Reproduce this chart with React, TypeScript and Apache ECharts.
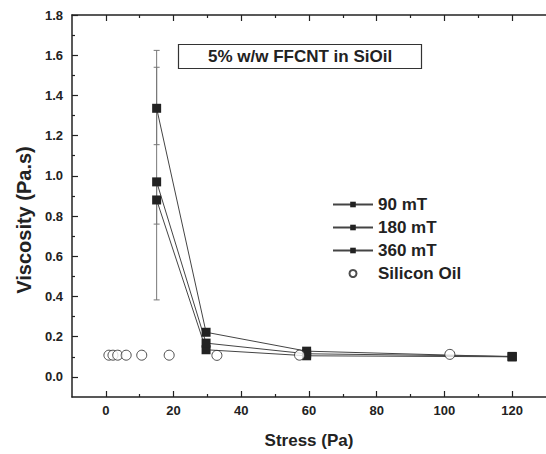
import React, { useEffect, useRef } from "react";
import * as echarts from "echarts";

const stressSq = [15, 29.6, 59.3, 120];
const visc90 = [0.88, 0.135, 0.105, 0.1];
const visc180 = [0.97, 0.168, 0.115, 0.102];
const visc360 = [1.336, 0.222, 0.128, 0.1];
const err90 = [0.76, 0.98];
const err180 = [0.383, 1.624];
const err360 = [1.155, 1.54];
const oilStress = [0.9, 2.1, 3.5, 6, 10.6, 18.7, 32.8, 57.2, 101.6];
const oilVisc = [0.108, 0.108, 0.108, 0.108, 0.108, 0.108, 0.107, 0.108, 0.112];
const xMajor = [0, 20, 40, 60, 80, 100, 120];
const xMinor = [10, 30, 50, 70, 90, 110];
const yMajor = [0, 0.2, 0.4, 0.6, 0.8, 1.0, 1.2, 1.4, 1.6, 1.8];
const yMinor = [0.1, 0.3, 0.5, 0.7, 0.9, 1.1, 1.3, 1.5, 1.7];
const seriesNames = ["90 mT", "180 mT", "360 mT", "Silicon Oil"];
const titleText = "5% w/w FFCNT in SiOil";

const FONT = "'Liberation Sans', Arial, sans-serif";
const INK = "#222";

export default function App() {
  const ref = useRef<HTMLDivElement>(null);
  useEffect(() => {
    if (!ref.current) return;
    const chart = echarts.init(ref.current, null, { renderer: "svg" });
    const pairs = (xs: number[], ys: number[]) => xs.map((x, i) => [x, ys[i]]);
    const errData = [
      [stressSq[0], err90[0], err90[1]],
      [stressSq[0], err180[0], err180[1]],
      [stressSq[0], err360[0], err360[1]],
    ];
    const xBase = { type: "value", min: -10, max: 130, splitLine: { show: false }, gridIndex: 0 };
    const yBase = { type: "value", min: -0.1, max: 1.8, splitLine: { show: false }, gridIndex: 0 };
    const tickStyle = { color: INK, width: 1.2 };
    const lineSeries = (name: string, ys: number[]) => ({
      name,
      type: "line",
      data: pairs(stressSq, ys),
      symbol: "rect",
      symbolSize: 9,
      itemStyle: { color: INK },
      lineStyle: { color: "#444", width: 1 },
      z: 3,
    });
    chart.setOption({
      animation: false,
      backgroundColor: "#fff",
      textStyle: { fontFamily: FONT },
      title: {
        text: titleText,
        left: 178,
        top: 44,
        padding: [4, 30, 4, 30],
        borderColor: "#333",
        borderWidth: 1.2,
        textStyle: { fontFamily: FONT, fontWeight: "bold", fontSize: 17, color: INK },
      },
      legend: {
        orient: "vertical",
        left: 327,
        top: 191,
        itemWidth: 40,
        itemHeight: 7,
        itemGap: 6,
        data: seriesNames,
        textStyle: { fontFamily: FONT, fontWeight: "bold", fontSize: 17, color: INK },
      },
      grid: { left: 72, top: 15, right: -6, bottom: 53 },
      xAxis: [
        {
          ...xBase,
          position: "bottom",
          axisLine: { show: true, onZero: false, lineStyle: { color: INK, width: 1.5 } },
          axisTick: { show: true, inside: true, length: 6, customValues: xMajor, lineStyle: tickStyle },
          axisLabel: {
            show: true,
            customValues: xMajor,
            margin: 7,
            fontFamily: FONT,
            fontWeight: "bold",
            fontSize: 13,
            color: INK,
          },
          name: "Stress (Pa)",
          nameLocation: "middle",
          nameGap: 35,
          nameTextStyle: { fontFamily: FONT, fontWeight: "bold", fontSize: 17, color: INK },
        },
        {
          ...xBase,
          position: "bottom",
          axisLine: { show: false, onZero: false },
          axisTick: { show: true, inside: true, length: 3, customValues: xMinor, lineStyle: tickStyle },
          axisLabel: { show: false },
        },
        {
          ...xBase,
          position: "top",
          axisLine: { show: true, onZero: false, lineStyle: { color: INK, width: 1.5 } },
          axisTick: { show: true, inside: true, length: 6, customValues: xMajor, lineStyle: tickStyle },
          axisLabel: { show: false },
        },
        {
          ...xBase,
          position: "top",
          axisLine: { show: false, onZero: false },
          axisTick: { show: true, inside: true, length: 3, customValues: xMinor, lineStyle: tickStyle },
          axisLabel: { show: false },
        },
      ],
      yAxis: [
        {
          ...yBase,
          position: "left",
          axisLine: { show: true, onZero: false, lineStyle: { color: INK, width: 1.5 } },
          axisTick: { show: true, inside: true, length: 6, customValues: yMajor, lineStyle: tickStyle },
          axisLabel: {
            show: true,
            customValues: yMajor,
            margin: 9,
            formatter: (v: number) => v.toFixed(1),
            fontFamily: FONT,
            fontWeight: "bold",
            fontSize: 13,
            color: INK,
          },
          name: "Viscosity (Pa.s)",
          nameLocation: "middle",
          nameGap: 36,
          nameTextStyle: {
            fontFamily: FONT,
            fontWeight: "bold",
            fontSize: 20,
            color: INK,
            padding: [0, 28, 0, 0],
          },
        },
        {
          ...yBase,
          position: "left",
          axisLine: { show: false, onZero: false },
          axisTick: { show: true, inside: true, length: 3, customValues: yMinor, lineStyle: tickStyle },
          axisLabel: { show: false },
        },
      ],
      series: [
        {
          type: "custom",
          name: "errors",
          data: errData,
          z: 2,
          renderItem: (params: any, api: any) => {
            const x = api.value(0);
            const lo = api.coord([x, api.value(1)]);
            const hi = api.coord([x, api.value(2)]);
            const w = 3;
            const style = { stroke: "#777", lineWidth: 1 };
            return {
              type: "group",
              children: [
                { type: "line", shape: { x1: lo[0], y1: lo[1], x2: hi[0], y2: hi[1] }, style },
                { type: "line", shape: { x1: lo[0] - w, y1: lo[1], x2: lo[0] + w, y2: lo[1] }, style },
                { type: "line", shape: { x1: hi[0] - w, y1: hi[1], x2: hi[0] + w, y2: hi[1] }, style },
              ],
            };
          },
        },
        lineSeries(seriesNames[0], visc90),
        lineSeries(seriesNames[1], visc180),
        lineSeries(seriesNames[2], visc360),
        {
          name: seriesNames[3],
          type: "scatter",
          data: pairs(oilStress, oilVisc),
          symbol: "circle",
          symbolSize: 10,
          itemStyle: { color: "#fff", borderColor: INK, borderWidth: 1 },
          z: 4,
        },
      ],
    });
    return () => chart.dispose();
  }, []);
  return (
    <div
      ref={ref}
      style={{ position: "fixed", left: 0, top: 0, width: 546, height: 454 }}
    />
  );
}
